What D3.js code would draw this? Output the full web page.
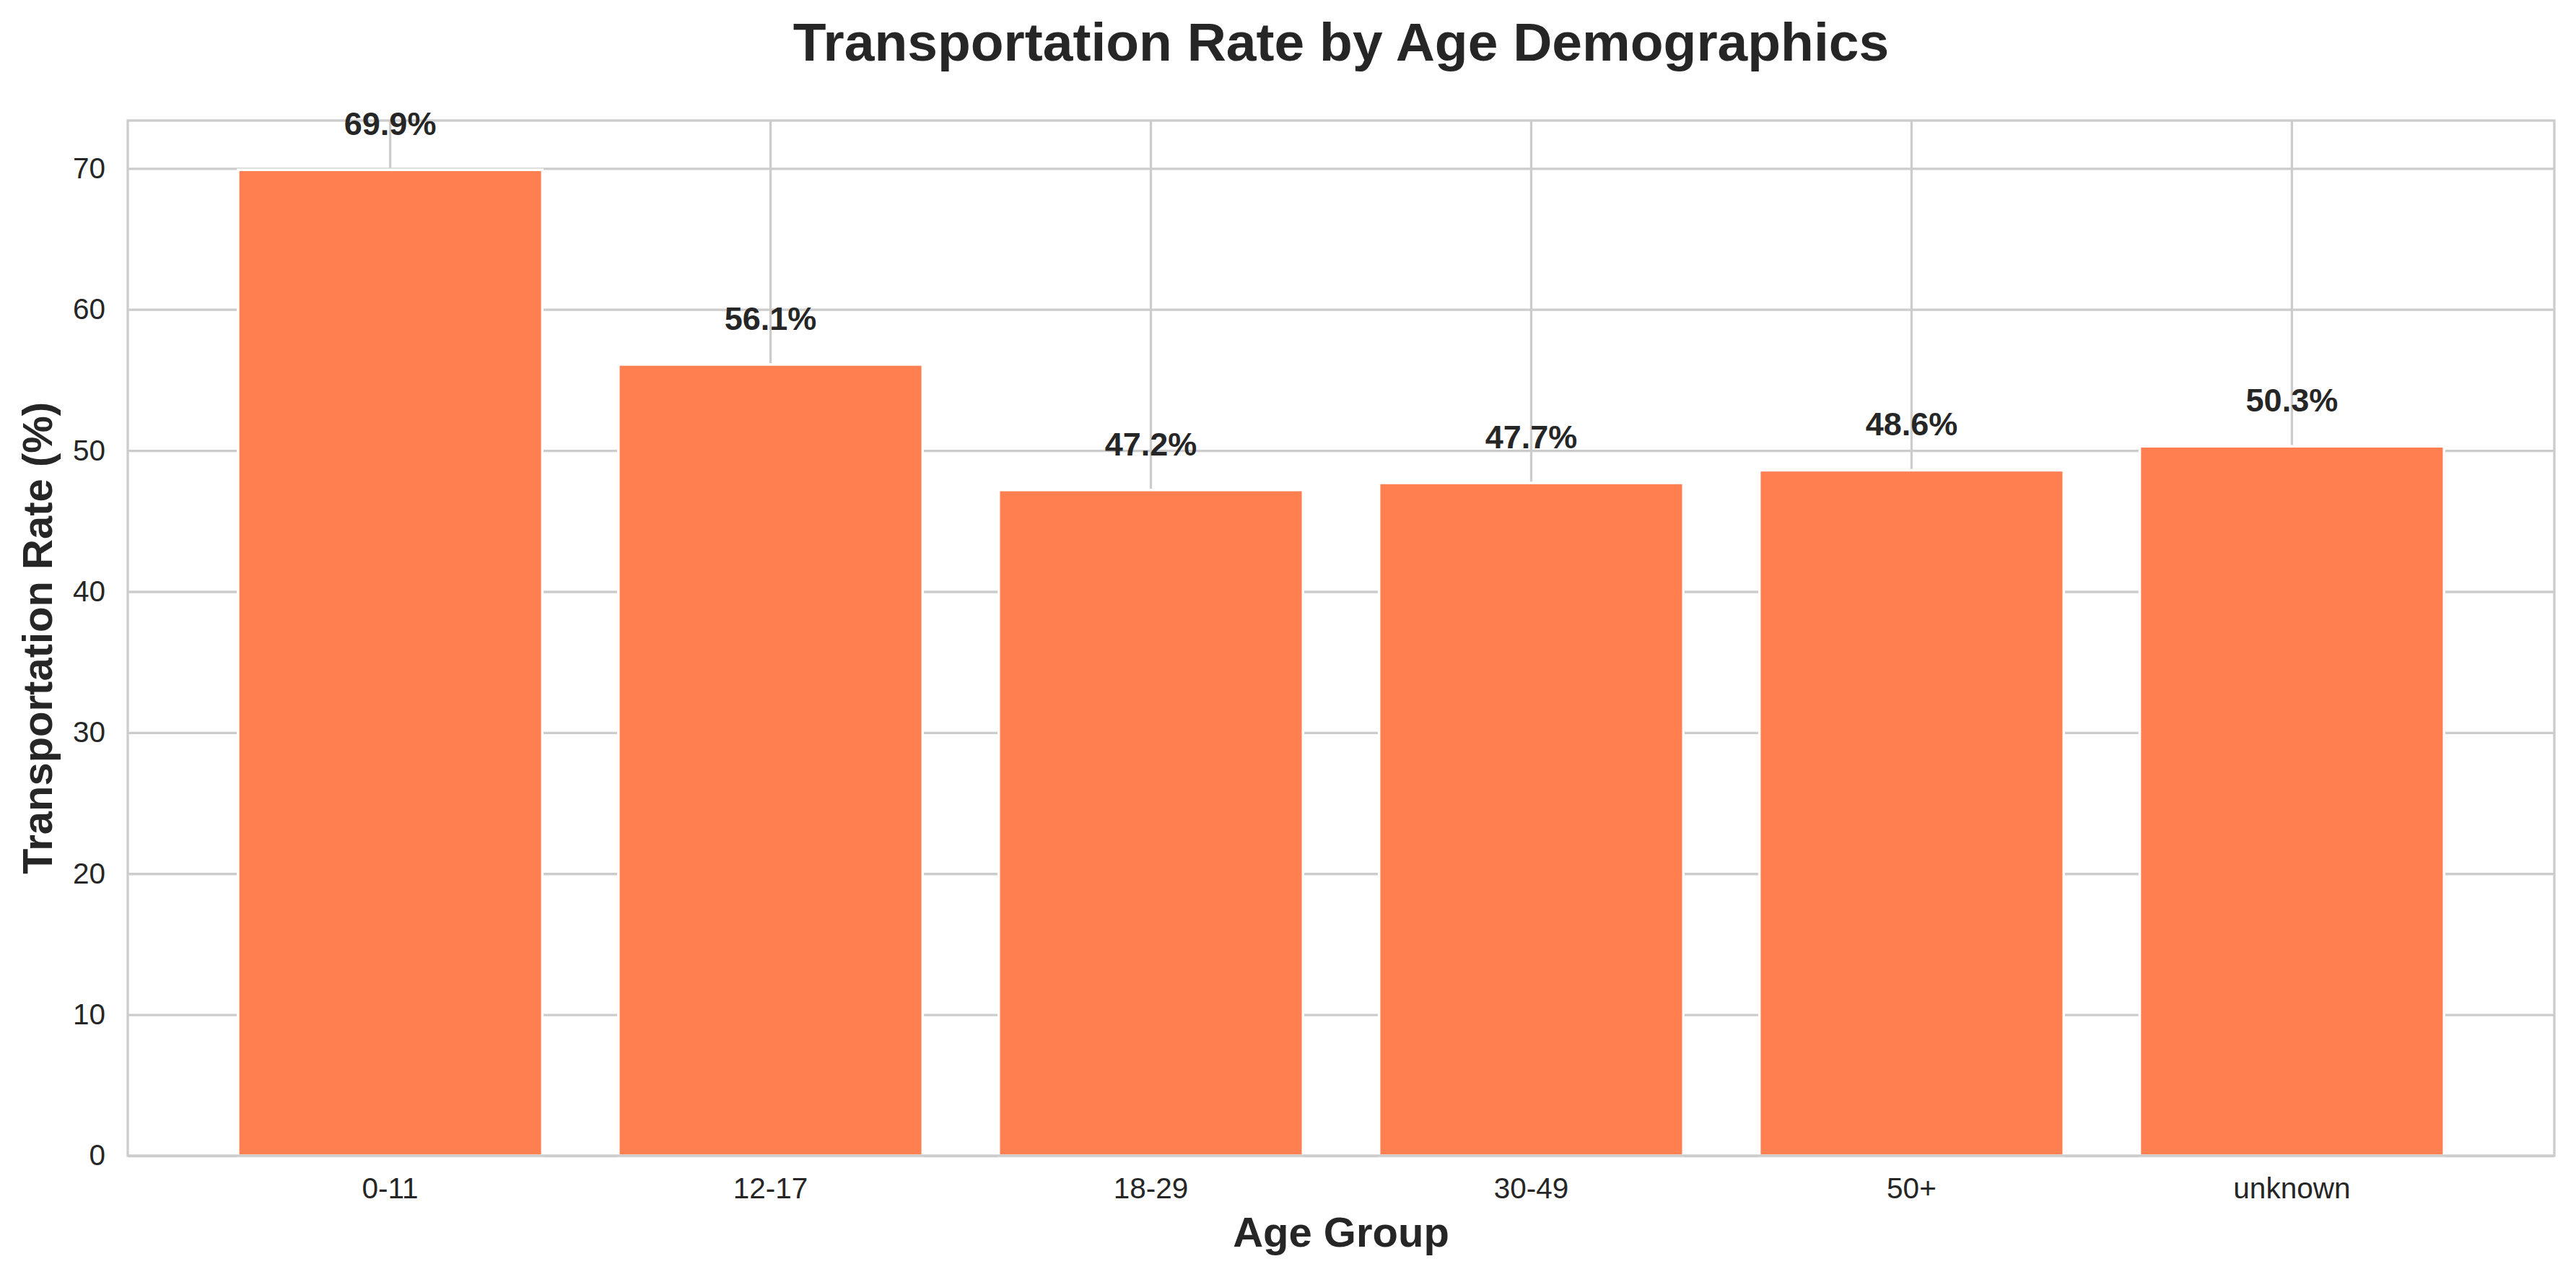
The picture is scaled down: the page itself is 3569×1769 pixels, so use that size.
<!DOCTYPE html>
<html>
<head>
    <meta charset="utf-8">
    <title>Transportation Rate by Age Demographics</title>
    <script src="https://d3js.org/d3.v7.min.js"></script>
    <style>
        body { margin: 0; background: #fff; }
        text { font-family: "Liberation Sans", Arial, sans-serif; fill: #262626; }
    </style>
</head>
<body>
    <svg width="3569" height="1769"></svg>

    <script>
        // data
        var ageGroups = ["0-11", "12-17", "18-29", "30-49", "50+", "unknown"];
        var rates = [69.9, 56.1, 47.2, 47.7, 48.6, 50.3];
        var yTicks = [0, 10, 20, 30, 40, 50, 60, 70];

        var data = ageGroups.map(function (g, i) { return { group: g, rate: rates[i] }; });

        var svg = d3.select("svg");
        // plot area edges (note: "top" is taken by window.top)
        var plotLeft = 177, plotRight = 3539, plotTop = 167, plotBottom = 1601;
        var grid = "#cccccc";

        var x = d3.scaleBand()
            .domain(ageGroups)
            .range([plotLeft, plotRight])
            .paddingInner(0.2)
            .paddingOuter(0.29);

        var y = d3.scaleLinear()
            .domain([0, d3.max(rates) * 1.05])
            .range([plotBottom, plotTop]);

        // horizontal grid + y tick labels
        var yAxis = svg.append("g")
            .attr("transform", "translate(" + plotLeft + ",0)")
            .call(d3.axisLeft(y).tickValues(yTicks).tickFormat(d3.format("d"))
                .tickSizeInner(-(plotRight - plotLeft)).tickSizeOuter(0).tickPadding(31));
        yAxis.select(".domain").remove();
        yAxis.selectAll("line").attr("stroke", grid).attr("stroke-width", 3.3);
        yAxis.selectAll("text").attr("font-size", 40.5).attr("fill", "#262626")
            .attr("font-family", "Liberation Sans, Arial, sans-serif");

        // vertical grid + x tick labels
        var xAxis = svg.append("g")
            .attr("transform", "translate(0," + plotBottom + ")")
            .call(d3.axisBottom(x).tickSizeInner(-(plotBottom - plotTop)).tickSizeOuter(0).tickPadding(30));
        xAxis.select(".domain").remove();
        xAxis.selectAll("line").attr("stroke", grid).attr("stroke-width", 3.3);
        xAxis.selectAll("text").attr("font-size", 40.5).attr("fill", "#262626")
            .attr("font-family", "Liberation Sans, Arial, sans-serif");

        // bars
        svg.append("g").selectAll("rect")
            .data(data)
            .enter().append("rect")
            .attr("x", function (d) { return x(d.group); })
            .attr("y", function (d) { return y(d.rate); })
            .attr("width", x.bandwidth())
            .attr("height", function (d) { return y(0) - y(d.rate); })
            .attr("fill", "#FF7F50")
            .attr("stroke", "#ffffff")
            .attr("stroke-width", 3.5);

        // frame
        svg.append("rect")
            .attr("x", plotLeft).attr("y", plotTop)
            .attr("width", plotRight - plotLeft).attr("height", plotBottom - plotTop)
            .attr("fill", "none")
            .attr("stroke", grid)
            .attr("stroke-width", 3.3);

        // value labels
        svg.append("g").selectAll("text")
            .data(data)
            .enter().append("text")
            .attr("x", function (d) { return x(d.group) + x.bandwidth() / 2; })
            .attr("y", function (d) { return y(d.rate) - 48; })
            .attr("text-anchor", "middle")
            .attr("font-size", 45)
            .attr("font-weight", "bold")
            .text(function (d) { return d.rate.toFixed(1) + "%"; });

        // title and axis labels
        svg.append("text")
            .attr("x", (plotLeft + plotRight) / 2)
            .attr("y", 84)
            .attr("text-anchor", "middle")
            .attr("font-size", 75)
            .attr("font-weight", "bold")
            .text("Transportation Rate by Age Demographics");

        svg.append("text")
            .attr("x", (plotLeft + plotRight) / 2)
            .attr("y", 1727)
            .attr("text-anchor", "middle")
            .attr("font-size", 58)
            .attr("font-weight", "bold")
            .text("Age Group");

        svg.append("text")
            .attr("transform", "translate(72," + (plotTop + plotBottom) / 2 + ") rotate(-90)")
            .attr("text-anchor", "middle")
            .attr("font-size", 58)
            .attr("font-weight", "bold")
            .text("Transportation Rate (%)");
    </script>
</body>
</html>
